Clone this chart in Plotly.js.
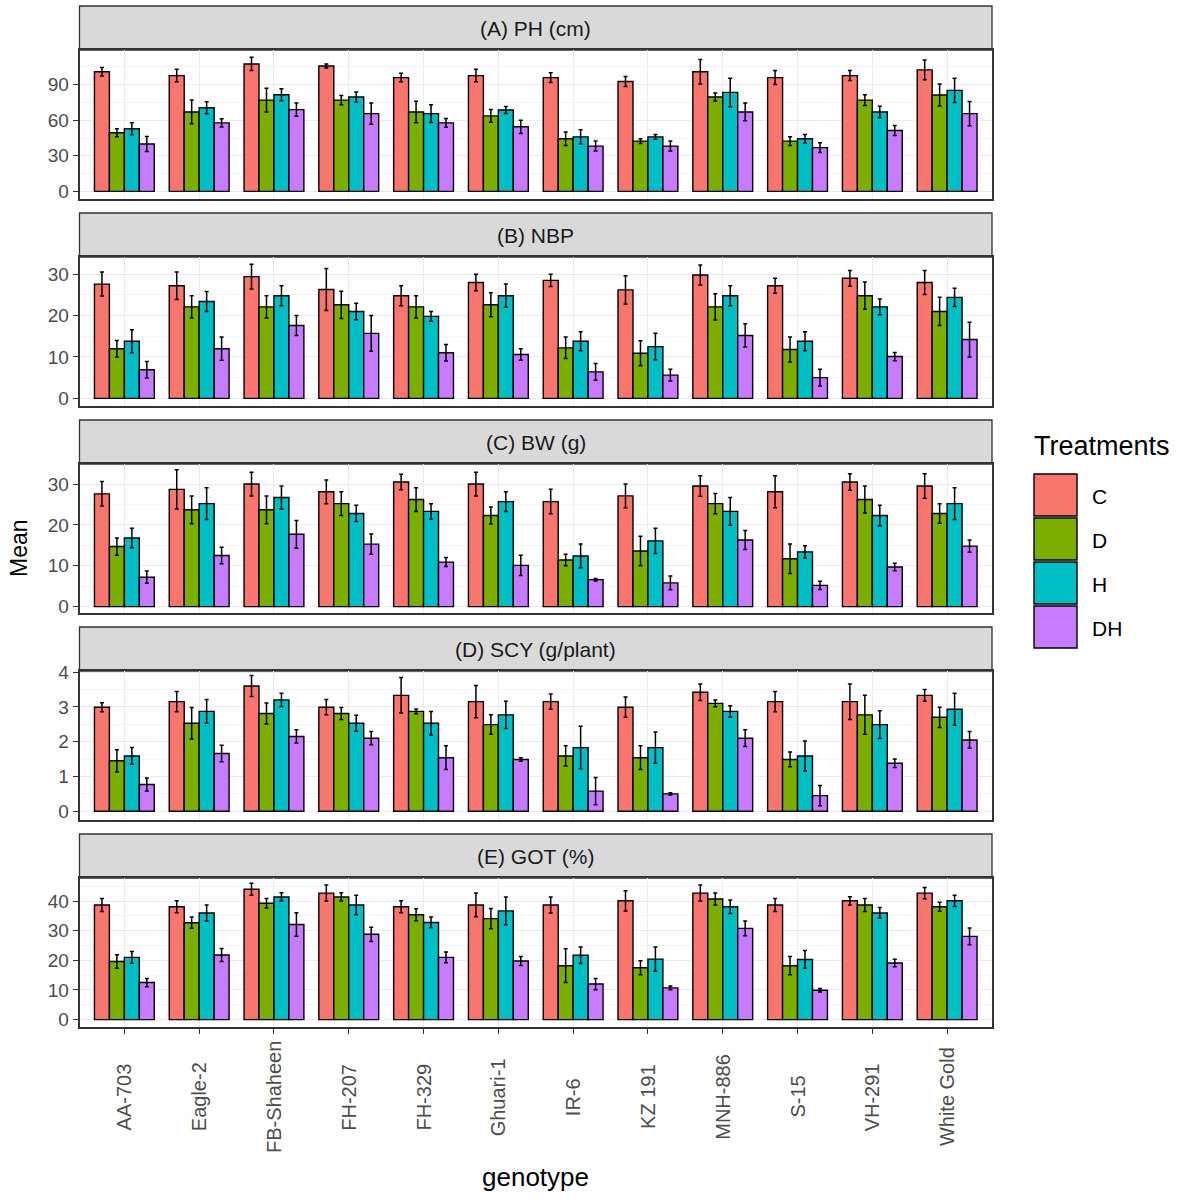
<!DOCTYPE html>
<html>
<head>
<meta charset="utf-8">
<script src="https://cdn.plot.ly/plotly-3.0.1.min.js"></script>
<style>
  html, body { margin: 0; padding: 0; background: #fff; }
  #chart { width: 1181px; height: 1198px; }
</style>
</head>
<body>
<div id="chart"></div>
<script>
// Genotype x treatment means with error bars, one facet per trait
const GENOTYPES = ['AA-703', 'Eagle-2', 'FB-Shaheen', 'FH-207', 'FH-329', 'Ghuari-1',
                   'IR-6', 'KZ 191', 'MNH-886', 'S-15', 'VH-291', 'White Gold'];
const TREATMENTS = ['C', 'D', 'H', 'DH'];
const COLORS = ['#F8766D', '#7CAE00', '#00BFC4', '#C77CFF'];

// rows: C, D, H, DH
const PH = [
  [101, 97.7, 107.5, 105.8, 96, 97.7, 96, 92.7, 101, 96, 97.7, 102.5],
  [49.5, 67, 77, 77, 67, 63.7, 44.4, 42.4, 79.6, 42.4, 77, 81.3],
  [52.8, 70.6, 81.5, 79.6, 65.6, 68.7, 46, 46, 83.5, 44.4, 67, 85.2],
  [40, 57.8, 69, 65.6, 57.8, 54.5, 38.2, 38.2, 67, 36.9, 51.4, 65.6],
];
const PH_ERR = [
  [3.6, 5.3, 5.6, 1.7, 3.6, 5.3, 4.2, 4.2, 10.3, 5.9, 4.2, 8.4],
  [3.4, 10, 10, 3.9, 9, 5.3, 5.6, 2, 3.4, 3.6, 4.5, 9.2],
  [5, 5, 5, 4.2, 7.5, 3, 6, 2, 12, 3.6, 4.8, 10.3],
  [6.4, 3.4, 5.6, 9, 3.6, 5.6, 4.2, 4.2, 7.5, 4.2, 4.2, 10.3],
];

const NBP = [
  [27.6, 27.2, 29.4, 26.3, 24.8, 28, 28.5, 26.2, 29.8, 27.2, 29, 28],
  [12, 22.1, 22.1, 22.6, 22.1, 22.6, 12.2, 10.9, 22.1, 11.8, 24.8, 21],
  [13.8, 23.4, 24.8, 21, 19.8, 24.8, 13.8, 12.5, 24.8, 13.8, 22.1, 24.4],
  [6.9, 12, 17.6, 15.7, 11, 10.6, 6.4, 5.6, 15.2, 5.0, 10.1, 14.2],
];
const NBP_ERR = [
  [2.9, 3.3, 3, 5.1, 2.4, 2, 1.5, 3.4, 2.4, 1.8, 1.9, 2.9],
  [2, 2.7, 2.7, 3.3, 2.7, 2.9, 2.6, 3, 3.2, 3, 3.3, 3.4],
  [2.8, 2.4, 2.4, 2, 1.2, 2.8, 2.3, 3.2, 2.4, 2.3, 1.9, 2.2],
  [2, 2.8, 2.4, 4.3, 2, 1.4, 2, 1.4, 2.8, 2, 1, 4.2],
];

const BW = [
  [27.6, 28.7, 30, 28.1, 30.5, 30, 25.7, 27.1, 29.5, 28.1, 30.5, 29.5],
  [14.7, 23.7, 23.7, 25.2, 26.2, 22.3, 11.4, 13.6, 25.2, 11.7, 26.2, 22.8],
  [16.8, 25.2, 26.7, 22.8, 23.3, 25.7, 12.4, 16.1, 23.3, 13.4, 22.3, 25.2],
  [7.2, 12.5, 17.7, 15.3, 10.9, 10.1, 6.6, 5.8, 16.3, 5.2, 9.7, 14.8],
];
const BW_ERR = [
  [3, 4.8, 2.9, 2.9, 1.9, 2.9, 3, 2.9, 2.5, 3.9, 2, 3],
  [2.1, 3.4, 3.4, 2.9, 2.9, 2.1, 1.4, 3.6, 2.5, 3.6, 3.3, 2.4],
  [2.4, 3.9, 2.8, 2, 1.9, 2.4, 2.9, 3.1, 3.4, 1.5, 2.5, 3.9],
  [1.5, 2, 3.4, 2.5, 1.1, 2.5, 0.3, 1.7, 2.3, 1, 0.9, 1.5],
];

const SCY = [
  [2.99, 3.15, 3.6, 2.99, 3.33, 3.15, 3.15, 2.99, 3.42, 3.15, 3.15, 3.33],
  [1.45, 2.53, 2.81, 2.81, 2.87, 2.49, 1.59, 1.54, 3.1, 1.49, 2.77, 2.7],
  [1.59, 2.87, 3.2, 2.53, 2.53, 2.77, 1.83, 1.83, 2.87, 1.59, 2.49, 2.93],
  [0.77, 1.66, 2.15, 2.1, 1.54, 1.49, 0.58, 0.5, 2.1, 0.45, 1.38, 2.05],
];
const SCY_ERR = [
  [0.13, 0.29, 0.3, 0.22, 0.51, 0.46, 0.22, 0.29, 0.24, 0.29, 0.51, 0.17],
  [0.32, 0.45, 0.3, 0.17, 0.07, 0.28, 0.29, 0.34, 0.1, 0.21, 0.56, 0.29],
  [0.24, 0.34, 0.19, 0.23, 0.34, 0.39, 0.61, 0.45, 0.16, 0.43, 0.4, 0.46],
  [0.19, 0.24, 0.19, 0.19, 0.34, 0.05, 0.39, 0.03, 0.24, 0.29, 0.12, 0.24],
];

const GOT = [
  [38.7, 38.1, 44, 42.7, 38.1, 38.7, 38.7, 40.1, 42.7, 38.7, 40.1, 42.7],
  [19.6, 32.7, 39.3, 41.4, 35.4, 34.1, 18.2, 17.5, 40.7, 18.2, 38.7, 38.1],
  [21, 36, 41.4, 38.7, 32.8, 36.7, 21.7, 20.4, 38.1, 20.3, 36, 40.1],
  [12.5, 21.8, 32.1, 28.8, 21, 19.8, 12, 10.7, 30.8, 9.9, 19.1, 28.1],
];
const GOT_ERR = [
  [2.2, 2, 2, 2.7, 2, 4, 2.7, 3.4, 2.7, 2.2, 1.4, 1.9],
  [2.3, 1.9, 1.6, 1.4, 2, 3.4, 5.7, 2.4, 2, 3.1, 2.2, 1.5],
  [2, 2.7, 1.4, 3.3, 1.8, 4.7, 2.8, 4.1, 2.3, 3, 1.8, 1.9],
  [1.4, 2.2, 4, 2.4, 1.8, 1.5, 1.9, 0.6, 2.5, 0.6, 1.3, 2.8],
];

const PANEL_TITLES = ['(A) PH (cm)', '(B) NBP', '(C) BW (g)', '(D) SCY (g/plant)', '(E) GOT (%)'];
const PANEL_MEANS  = [PH, NBP, BW, SCY, GOT];
const PANEL_ERRS   = [PH_ERR, NBP_ERR, BW_ERR, SCY_ERR, GOT_ERR];

// axis setup per facet: y range (ggplot-style expansion), major / minor step
const PANEL_AXES = [
  { range: [-6.45, 119.3], dtick: 30,  minor: 15 },
  { range: [-1.85, 34.15], dtick: 10,  minor: 5 },
  { range: [-1.56, 34.9],  dtick: 10,  minor: 5 },
  { range: [-0.25, 4.03],  dtick: 1,   minor: 0.5 },
  { range: [-2.5, 47.8],   dtick: 10,  minor: 5 },
];

// page geometry (pixels)
const W = 1181, H = 1198;
const X0 = 79.5, X1 = 992;
const TOP = 6, PITCH = 207, STRIP_H = 44, PANEL_H = 149;

const FONT = 'Liberation Sans, Arial, Helvetica, sans-serif';
const px = v => v / W;
const py = v => 1 - v / H;

const traces = [];
const layout = {
  width: W, height: H,
  margin: { t: 0, r: 0, b: 0, l: 0 },
  paper_bgcolor: '#ffffff',
  plot_bgcolor: '#ffffff',
  font: { family: FONT, color: '#4d4d4d', size: 19 },
  barmode: 'group',
  bargap: 0.2,
  bargroupgap: 0,
  showlegend: false,
  shapes: [],
  annotations: [],
};

PANEL_TITLES.forEach((title, p) => {
  const n = p === 0 ? '' : String(p + 1);
  const stripTop = TOP + p * PITCH;
  const panelTop = stripTop + STRIP_H;
  const panelBot = panelTop + PANEL_H;
  const isLast = p === PANEL_TITLES.length - 1;

  TREATMENTS.forEach((t, k) => {
    traces.push({
      type: 'bar',
      name: t,
      x: GENOTYPES,
      y: PANEL_MEANS[p][k],
      xaxis: 'x' + n,
      yaxis: 'y' + n,
      marker: { color: COLORS[k], line: { color: '#000', width: 1.4 } },
      error_y: {
        type: 'data',
        array: PANEL_ERRS[p][k],
        visible: true,
        color: '#000',
        thickness: 1.5,
        width: 2,
      },
      hovertemplate: '%{x}<br>' + t + ': %{y}<extra></extra>',
    });
  });

  layout['xaxis' + n] = {
    domain: [px(X0), px(X1)],
    anchor: 'y' + n,
    type: 'category',
    categoryorder: 'array',
    categoryarray: GENOTYPES,
    range: [-0.6, GENOTYPES.length - 0.4],
    showgrid: true,
    gridcolor: '#ebebeb',
    gridwidth: 1,
    showline: true,
    mirror: true,
    linecolor: '#333333',
    linewidth: 1.5,
    ticks: isLast ? 'outside' : '',
    ticklen: 5,
    tickwidth: 1.3,
    tickcolor: '#333333',
    showticklabels: false,
    fixedrange: true,
  };
  layout['yaxis' + n] = {
    domain: [py(panelBot), py(panelTop)],
    anchor: 'x' + n,
    range: PANEL_AXES[p].range,
    dtick: PANEL_AXES[p].dtick,
    tick0: 0,
    showgrid: true,
    gridcolor: '#ebebeb',
    gridwidth: 1,
    minor: { dtick: PANEL_AXES[p].minor, tick0: 0, showgrid: true, gridcolor: '#f4f4f4', gridwidth: 0.6 },
    zeroline: false,
    showline: true,
    mirror: true,
    linecolor: '#333333',
    linewidth: 1.5,
    ticks: 'outside',
    ticklen: 5,
    tickwidth: 1.3,
    tickcolor: '#333333',
    tickfont: { family: FONT, size: 19, color: '#4d4d4d' },
    fixedrange: true,
  };

  // facet strip
  layout.shapes.push({
    type: 'rect', xref: 'paper', yref: 'paper',
    x0: px(X0), x1: px(X1), y0: py(panelTop), y1: py(stripTop),
    fillcolor: '#d9d9d9', line: { color: '#333333', width: 1.3 }, layer: 'below',
  });
  layout.annotations.push({
    xref: 'paper', yref: 'paper',
    x: px((X0 + X1) / 2), y: py(stripTop + STRIP_H / 2),
    text: title, showarrow: false,
    xanchor: 'center', yanchor: 'middle',
    font: { family: FONT, size: 21, color: '#1a1a1a' },
  });

  // rotated genotype labels under the last panel, centred like ggplot's angle=90
  if (isLast) {
    GENOTYPES.forEach(g => {
      layout.annotations.push({
        xref: 'x' + n, yref: 'paper',
        x: g, y: py(1097),
        text: g, showarrow: false, textangle: -90,
        xanchor: 'center', yanchor: 'middle',
        font: { family: FONT, size: 20, color: '#4d4d4d' },
      });
    });
  }
});

// axis titles
layout.annotations.push({
  xref: 'paper', yref: 'paper', x: px(535), y: py(1177),
  text: 'genotype', showarrow: false, xanchor: 'center', yanchor: 'middle',
  font: { family: FONT, size: 26, color: '#000' },
});
layout.annotations.push({
  xref: 'paper', yref: 'paper', x: px(19), y: py(548),
  text: 'Mean', showarrow: false, textangle: -90, xanchor: 'center', yanchor: 'middle',
  font: { family: FONT, size: 23, color: '#000' },
});

// legend: "Treatments" with large ggplot-style keys
layout.annotations.push({
  xref: 'paper', yref: 'paper', x: px(1032), y: py(446),
  text: 'Treatments', showarrow: false, xanchor: 'left', yanchor: 'middle',
  font: { family: FONT, size: 27, color: '#000' },
});
TREATMENTS.forEach((t, k) => {
  const top = 474 + k * 44;
  layout.shapes.push({
    type: 'rect', xref: 'paper', yref: 'paper',
    x0: px(1034), x1: px(1077), y0: py(top + 42), y1: py(top),
    fillcolor: COLORS[k], line: { color: '#000', width: 1.4 },
  });
  layout.annotations.push({
    xref: 'paper', yref: 'paper', x: px(1090), y: py(top + 22),
    text: t, showarrow: false, xanchor: 'left', yanchor: 'middle',
    font: { family: FONT, size: 21, color: '#000' },
  });
});

Plotly.newPlot('chart', traces, layout, { displayModeBar: false, responsive: false });
</script>
</body>
</html>
